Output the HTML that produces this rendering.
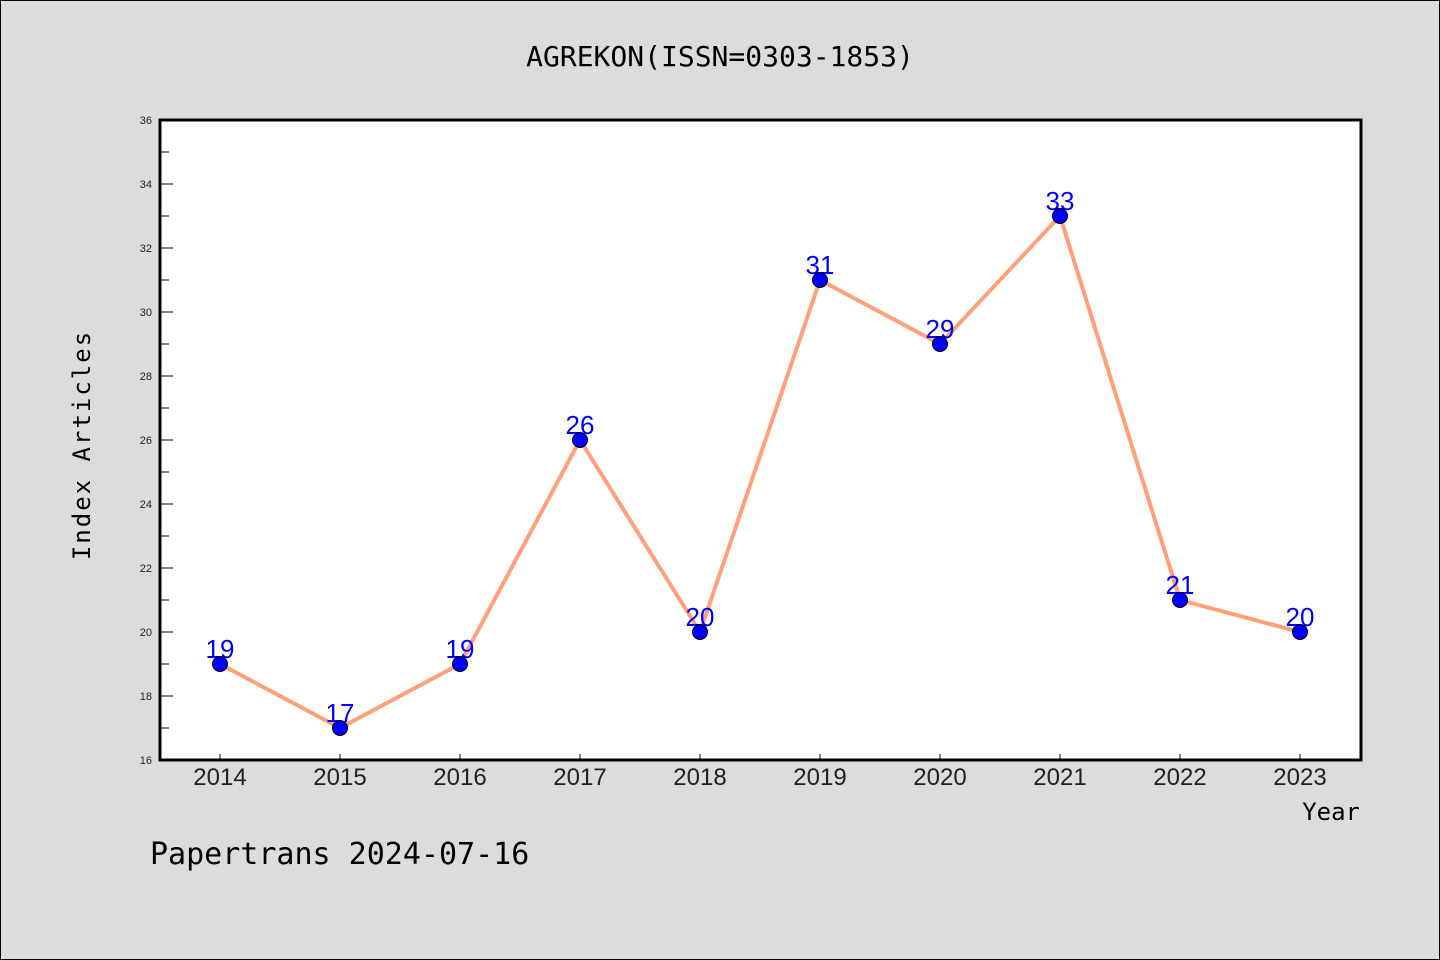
<!DOCTYPE html>
<html><head><meta charset="utf-8"><style>
html,body{margin:0;padding:0;background:#dcdcdc;}
svg{display:block;font-family:"Liberation Sans","WenQuanYi Zen Hei",sans-serif;}
</style></head><body>
<svg id="chart" width="1440" height="960" viewBox="0 0 1440 960" xmlns="http://www.w3.org/2000/svg">
<rect x="0.5" y="0.5" width="1439" height="959" fill="#dcdcdc" stroke="#000" stroke-width="1"/>
<text x="720" y="66" font-size="28" text-anchor="middle" fill="#000" font-family="WenQuanYi Zen Hei, monospace">AGREKON(ISSN=0303-1853)</text>
<rect x="160" y="120" width="1201" height="640" fill="#fff" stroke="#000" stroke-width="3"/>
<g id="yaxis"></g>
<g id="xaxis"></g>
<g id="series"></g>
<text transform="translate(90,445) rotate(-90)" font-size="24" text-anchor="middle" fill="#000" font-family="WenQuanYi Zen Hei, monospace" letter-spacing="2">Index Articles</text>
<text x="1360" y="820" font-size="24" text-anchor="end" fill="#000" font-family="WenQuanYi Zen Hei, monospace">Year</text>
<text x="150" y="864" font-size="30" fill="#000" font-family="WenQuanYi Zen Hei, monospace">Papertrans 2024-07-16</text>
</svg>
<script>
const categories = ["2014","2015","2016","2017","2018","2019","2020","2021","2022","2023"];
const values = [19,17,19,26,20,31,29,33,21,20];
const yTicks = [16,18,20,22,24,26,28,30,32,34,36];
const NS = "http://www.w3.org/2000/svg";
const x0 = 220, xStep = 120;
const yMin = 16, yMax = 36, yBot = 760, yTop = 120;
function xs(i){ return x0 + i * xStep; }
function ys(v){ return yBot - (v - yMin) / (yMax - yMin) * (yBot - yTop); }
function mk(tag, attrs, parent){ const e = document.createElementNS(NS, tag); for (const k in attrs) e.setAttribute(k, attrs[k]); parent.appendChild(e); return e; }
const ya = document.getElementById('yaxis');
yTicks.forEach((t, i) => {
  const y = ys(t);
  const tk = mk('line', {x1:160, x2:173, y1:y, y2:y, stroke:'#000', 'stroke-width':1}, ya);
  
  
  const lb = mk('text', {x:152, y:y+4, 'font-size':11, 'text-anchor':'end', fill:'#222'}, ya);
  
  
  lb.textContent = t;
  if (i < yTicks.length - 1) {
    const my = ys(t + 1);
    const mn = mk('line', {x1:160, x2:169, y1:my, y2:my, stroke:'#000', 'stroke-width':1}, ya);
    
    
  }
});
const xa = document.getElementById('xaxis');
categories.forEach((c, i) => {
  const x = xs(i);
  const tk = mk('line', {x1:x, x2:x, y1:760, y2:754, stroke:'#000', 'stroke-width':1}, xa);
  
  
  const lb = mk('text', {x:x, y:785, 'font-size':24, 'text-anchor':'middle', fill:'#222'}, xa);
  
  
  lb.textContent = c;
});
const sg = document.getElementById('series');
const pts = values.map((v, i) => xs(i) + ',' + ys(v)).join(' ');
const line = mk('polyline', {points:pts, fill:'none', stroke:'#ffa07a', 'stroke-width':4, 'stroke-linejoin':'round'}, sg);


values.forEach((v, i) => {
  const lb = mk('text', {x:xs(i), y:ys(v)-6, 'font-size':26, 'text-anchor':'middle', fill:'#0000ff'}, sg);
  
  
  lb.textContent = v;
  const p = mk('circle', {cx:xs(i), cy:ys(v), r:7.5, fill:'#0000ff', stroke:'#000', 'stroke-width':1}, sg);
  
  
});
</script>
</body></html>
